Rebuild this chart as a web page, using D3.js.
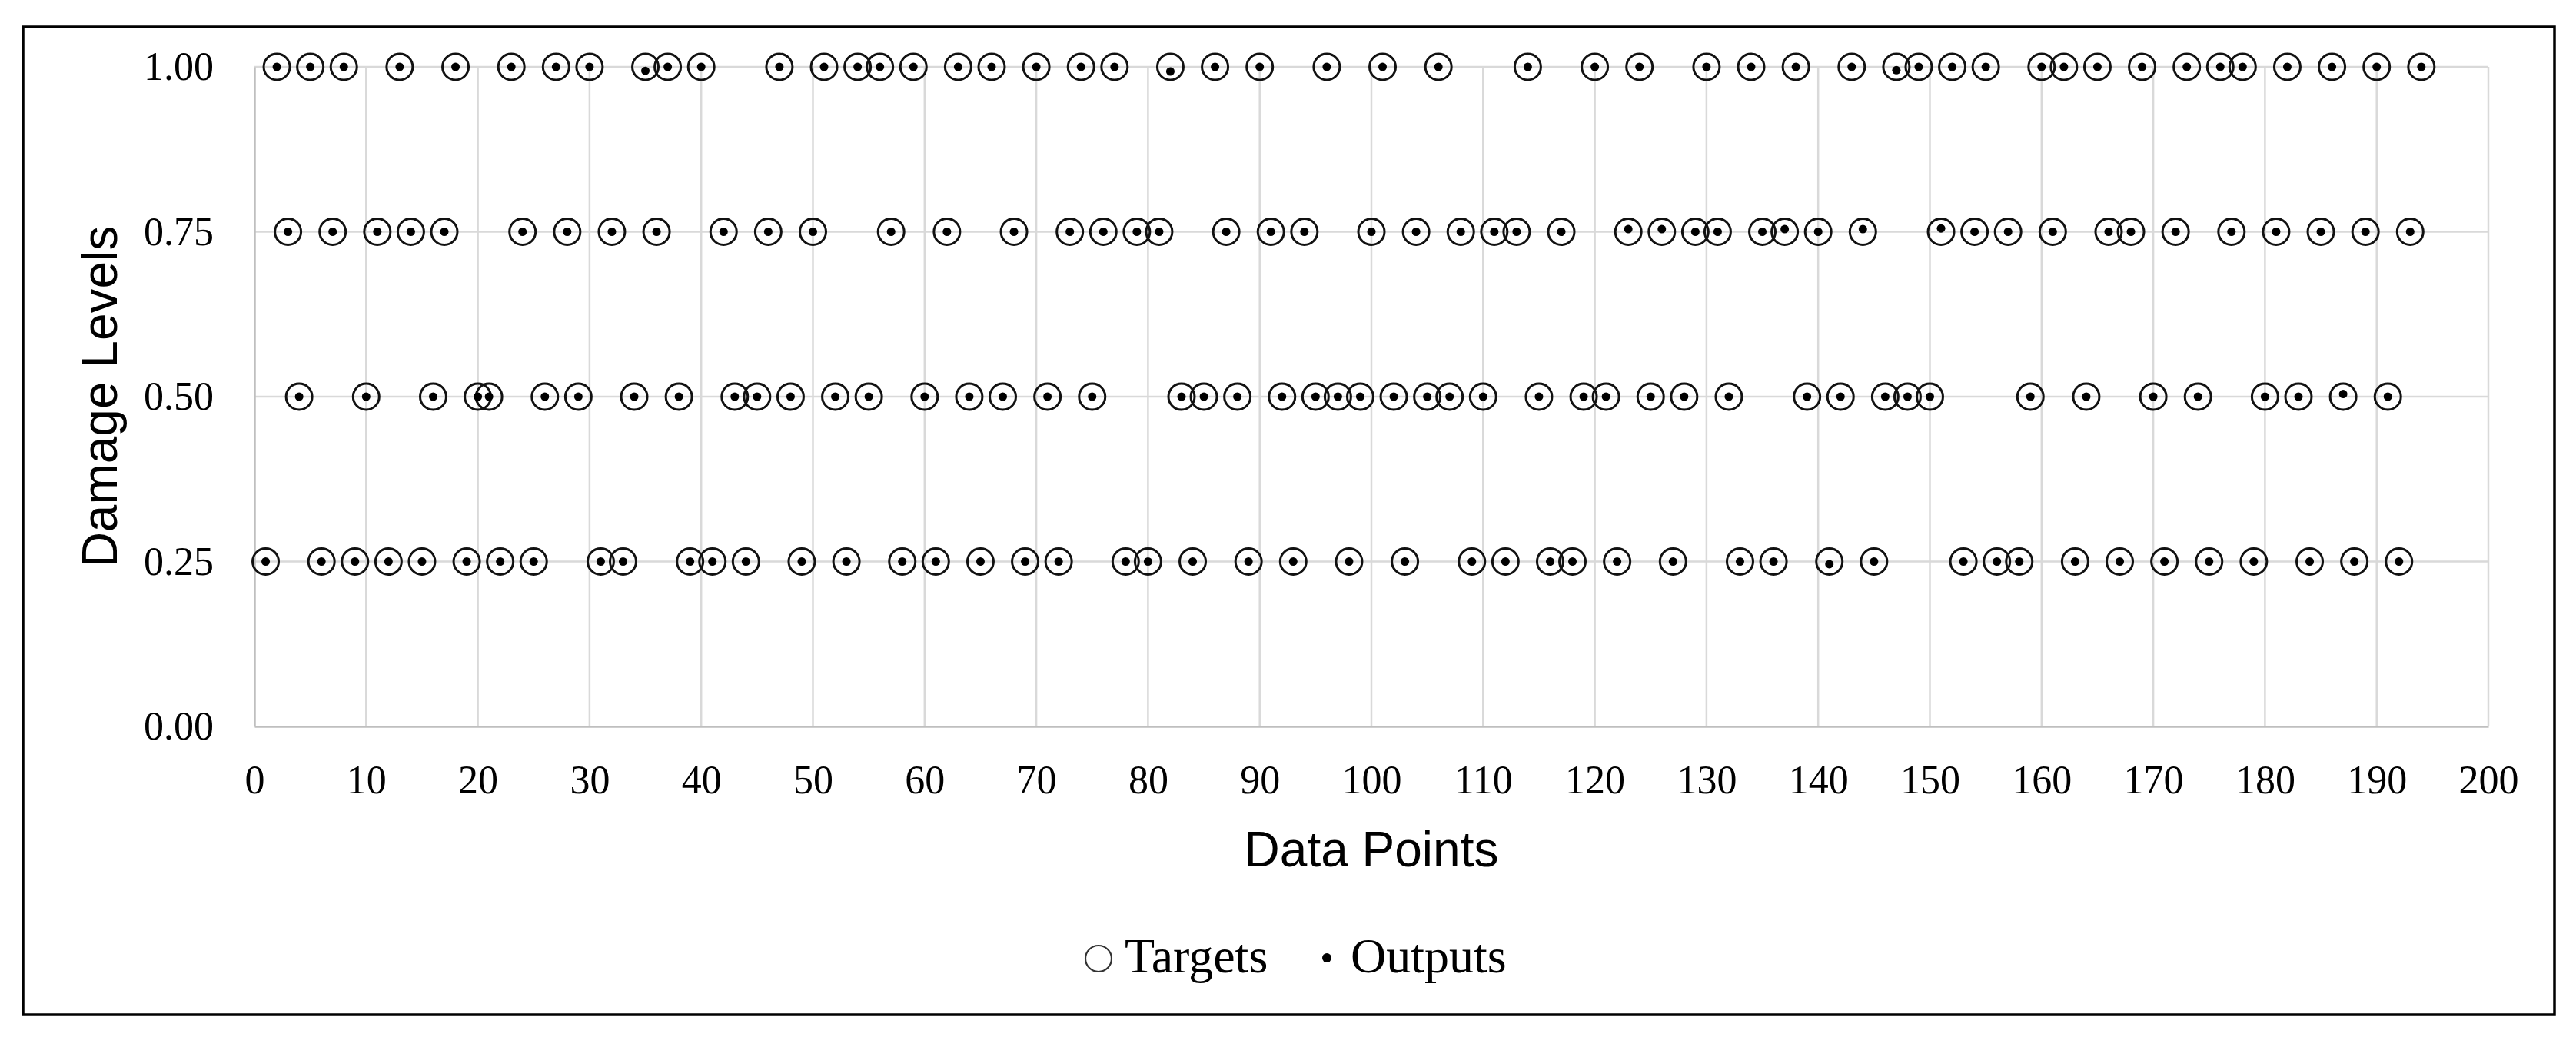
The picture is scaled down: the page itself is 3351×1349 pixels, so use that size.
<!DOCTYPE html>
<html>
<head>
<meta charset="utf-8">
<script src="https://cdn.jsdelivr.net/npm/d3@7/dist/d3.min.js"></script>
<style>
  body { margin: 0; background: #fff; }
  .axis .tick text { font-family: "Liberation Serif", "Times New Roman", serif; font-size: 52px; fill: #000; }
  .axis path { stroke: #bfbfbf; stroke-width: 2.5px; }
  .grid line { stroke: #d9d9d9; stroke-width: 2.5px; }
  .title { font-family: "Liberation Sans", Arial, sans-serif; font-size: 64px; fill: #000; }
  .legend text { font-family: "Liberation Serif", "Times New Roman", serif; font-size: 64px; fill: #000; }
</style>
</head>
<body>
<script>
// Target damage level for each data point (1..194)
var targets = [
  0.25, 1, 0.75, 0.5, 1, 0.25, 0.75, 1, 0.25, 0.5,
  0.75, 0.25, 1, 0.75, 0.25, 0.5, 0.75, 1, 0.25, 0.5,
  0.5, 0.25, 1, 0.75, 0.25, 0.5, 1, 0.75, 0.5, 1,
  0.25, 0.75, 0.25, 0.5, 1, 0.75, 1, 0.5, 0.25, 1,
  0.25, 0.75, 0.5, 0.25, 0.5, 0.75, 1, 0.5, 0.25, 0.75,
  1, 0.5, 0.25, 1, 0.5, 1, 0.75, 0.25, 1, 0.5,
  0.25, 0.75, 1, 0.5, 0.25, 1, 0.5, 0.75, 0.25, 1,
  0.5, 0.25, 0.75, 1, 0.5, 0.75, 1, 0.25, 0.75, 0.25,
  0.75, 1, 0.5, 0.25, 0.5, 1, 0.75, 0.5, 0.25, 1,
  0.75, 0.5, 0.25, 0.75, 0.5, 1, 0.5, 0.25, 0.5, 0.75,
  1, 0.5, 0.25, 0.75, 0.5, 1, 0.5, 0.75, 0.25, 0.5,
  0.75, 0.25, 0.75, 1, 0.5, 0.25, 0.75, 0.25, 0.5, 1,
  0.5, 0.25, 0.75, 1, 0.5, 0.75, 0.25, 0.5, 0.75, 1,
  0.75, 0.5, 0.25, 1, 0.75, 0.25, 0.75, 1, 0.5, 0.75,
  0.25, 0.5, 1, 0.75, 0.25, 0.5, 1, 0.5, 1, 0.5,
  0.75, 1, 0.25, 0.75, 1, 0.25, 0.75, 0.25, 0.5, 1,
  0.75, 1, 0.25, 0.5, 1, 0.75, 0.25, 0.75, 1, 0.5,
  0.25, 0.75, 1, 0.5, 0.25, 1, 0.75, 1, 0.25, 0.5,
  0.75, 1, 0.5, 0.25, 0.75, 1, 0.5, 0.25, 0.75, 1,
  0.5, 0.25, 0.75, 1
];

// Network outputs (a few sit slightly off the target)
var outputs = [
  0.25, 1, 0.75, 0.5, 1, 0.25, 0.75, 1, 0.25, 0.5,
  0.75, 0.25, 1, 0.75, 0.25, 0.5, 0.75, 1, 0.25, 0.5,
  0.5, 0.25, 1, 0.75, 0.25, 0.5, 1, 0.75, 0.5, 1,
  0.25, 0.75, 0.25, 0.5, 0.994, 0.75, 1, 0.5, 0.25, 1,
  0.25, 0.75, 0.5, 0.25, 0.5, 0.75, 1, 0.5, 0.25, 0.75,
  1, 0.5, 0.25, 1, 0.5, 1, 0.75, 0.25, 1, 0.5,
  0.25, 0.75, 1, 0.5, 0.25, 1, 0.5, 0.75, 0.25, 1,
  0.5, 0.25, 0.75, 1, 0.5, 0.75, 1, 0.25, 0.75, 0.25,
  0.75, 0.993, 0.5, 0.25, 0.5, 1, 0.75, 0.5, 0.25, 1,
  0.75, 0.5, 0.25, 0.75, 0.5, 1, 0.5, 0.25, 0.5, 0.75,
  1, 0.5, 0.25, 0.75, 0.5, 1, 0.5, 0.75, 0.25, 0.5,
  0.75, 0.25, 0.75, 1, 0.5, 0.25, 0.75, 0.25, 0.5, 1,
  0.5, 0.25, 0.754, 1, 0.5, 0.754, 0.25, 0.5, 0.75, 1,
  0.75, 0.5, 0.25, 1, 0.75, 0.25, 0.754, 1, 0.5, 0.75,
  0.246, 0.5, 1, 0.754, 0.25, 0.5, 0.995, 0.5, 1, 0.5,
  0.755, 1, 0.25, 0.75, 1, 0.25, 0.75, 0.25, 0.5, 1,
  0.75, 1, 0.25, 0.5, 1, 0.75, 0.25, 0.75, 1, 0.5,
  0.25, 0.75, 1, 0.5, 0.25, 1, 0.75, 1, 0.25, 0.5,
  0.75, 1, 0.5, 0.25, 0.75, 1, 0.504, 0.25, 0.75, 1,
  0.5, 0.25, 0.75, 1
];

var xTicks = [0, 10, 20, 30, 40, 50, 60, 70, 80, 90, 100, 110, 120, 130, 140, 150, 160, 170, 180, 190, 200];
var yTicks = [0, 0.25, 0.5, 0.75, 1];

var seriesNames = ["Targets", "Outputs"];

// Set graph dimensions and margins
var margin = {top: 87, right: 114, bottom: 404, left: 331},
    width = 3351 - margin.left - margin.right,
    height = 1349 - margin.top - margin.bottom;

var points = targets.map(function(t, i) {
  return {n: i + 1, target: t, output: outputs[i]};
});

var x = d3.scaleLinear().domain([0, 200]).range([0, width]);
var y = d3.scaleLinear().domain([0, 1]).range([height, 0]);

var root = d3.select("body").append("svg")
    .attr("width", 3351)
    .attr("height", 1349);

// outer frame
root.append("rect")
    .attr("x", 30)
    .attr("y", 35)
    .attr("width", 3293)
    .attr("height", 1285)
    .style("fill", "none")
    .style("stroke", "#000")
    .style("stroke-width", 3.5);

var svg = root.append("g")
    .attr("transform", "translate(" + margin.left + "," + margin.top + ")");

// gridlines
var grid = svg.append("g").attr("class", "grid");
grid.selectAll(".vgrid")
    .data(xTicks.slice(1))
  .enter().append("line")
    .attr("x1", function(d) { return x(d); })
    .attr("x2", function(d) { return x(d); })
    .attr("y1", 0)
    .attr("y2", height);
grid.selectAll(".hgrid")
    .data(yTicks.slice(1))
  .enter().append("line")
    .attr("x1", 0)
    .attr("x2", width)
    .attr("y1", function(d) { return y(d); })
    .attr("y2", function(d) { return y(d); });

// axes
svg.append("g")
    .attr("class", "axis")
    .attr("transform", "translate(0," + height + ")")
    .call(d3.axisBottom(x).tickValues(xTicks).tickSize(0).tickPadding(50).tickFormat(d3.format("d")));

svg.append("g")
    .attr("class", "axis")
    .call(d3.axisLeft(y).tickValues(yTicks).tickSize(0).tickPadding(53).tickFormat(d3.format(".2f")));

// targets: open circles
svg.selectAll(".target")
    .data(points)
  .enter().append("circle")
    .attr("class", "target")
    .attr("cx", function(d) { return x(d.n); })
    .attr("cy", function(d) { return y(d.target); })
    .attr("r", 17)
    .style("fill", "none")
    .style("stroke", "#111")
    .style("stroke-width", 3);

// outputs: small dots
svg.selectAll(".output")
    .data(points)
  .enter().append("circle")
    .attr("class", "output")
    .attr("cx", function(d) { return x(d.n); })
    .attr("cy", function(d) { return y(d.output); })
    .attr("r", 5.5)
    .style("fill", "#000");

// axis titles
root.append("text")
    .attr("class", "title")
    .attr("x", margin.left + width / 2)
    .attr("y", 1127)
    .attr("text-anchor", "middle")
    .text("Data Points");

root.append("text")
    .attr("class", "title")
    .attr("transform", "translate(152," + (margin.top + height / 2) + ") rotate(-90)")
    .attr("text-anchor", "middle")
    .text("Damage Levels");

// legend
var legend = root.append("g").attr("class", "legend");
legend.append("circle")
    .attr("cx", 1429)
    .attr("cy", 1247)
    .attr("r", 17)
    .style("fill", "none")
    .style("stroke", "#333")
    .style("stroke-width", 2.2);
legend.append("text")
    .attr("x", 1463)
    .attr("y", 1265)
    .text(seriesNames[0]);
legend.append("circle")
    .attr("cx", 1726)
    .attr("cy", 1246)
    .attr("r", 6)
    .style("fill", "#000");
legend.append("text")
    .attr("x", 1757)
    .attr("y", 1265)
    .text(seriesNames[1]);
</script>
</body>
</html>
